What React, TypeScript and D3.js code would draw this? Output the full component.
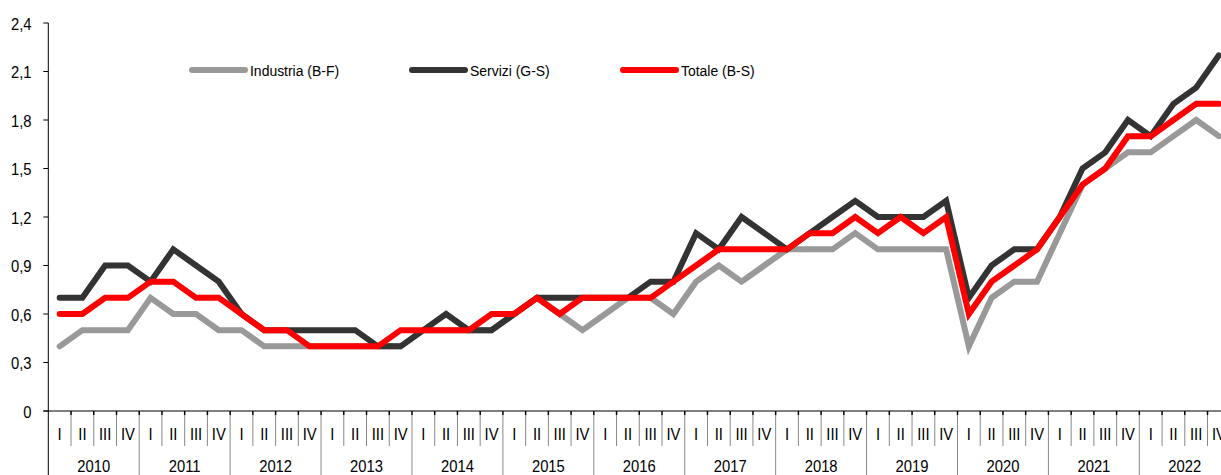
import React from "react";
import * as d3 from "d3";

const years = ["2010","2011","2012","2013","2014","2015","2016","2017","2018","2019","2020","2021","2022"];
const quarterNames = ["I","II","III","IV"];
const yTicks = [0, 0.3, 0.6, 0.9, 1.2, 1.5, 1.8, 2.1, 2.4];

const industria = [
  0.4,0.5,0.5,0.5, 0.7,0.6,0.6,0.5, 0.5,0.4,0.4,0.4, 0.4,0.4,0.4,0.4,
  0.5,0.5,0.5,0.5, 0.6,0.7,0.6,0.5, 0.6,0.7,0.7,0.6, 0.8,0.9,0.8,0.9,
  1.0,1.0,1.0,1.1, 1.0,1.0,1.0,1.0, 0.4,0.7,0.8,0.8, 1.1,1.4,1.5,1.6,
  1.6,1.7,1.8,1.7,
];
const servizi = [
  0.7,0.7,0.9,0.9, 0.8,1.0,0.9,0.8, 0.6,0.5,0.5,0.5, 0.5,0.5,0.4,0.4,
  0.5,0.6,0.5,0.5, 0.6,0.7,0.7,0.7, 0.7,0.7,0.8,0.8, 1.1,1.0,1.2,1.1,
  1.0,1.1,1.2,1.3, 1.2,1.2,1.2,1.3, 0.7,0.9,1.0,1.0, 1.2,1.5,1.6,1.8,
  1.7,1.9,2.0,2.2,
];
const totale = [
  0.6,0.6,0.7,0.7, 0.8,0.8,0.7,0.7, 0.6,0.5,0.5,0.4, 0.4,0.4,0.4,0.5,
  0.5,0.5,0.5,0.6, 0.6,0.7,0.6,0.7, 0.7,0.7,0.7,0.8, 0.9,1.0,1.0,1.0,
  1.0,1.1,1.1,1.2, 1.1,1.2,1.1,1.2, 0.6,0.8,0.9,1.0, 1.2,1.4,1.5,1.7,
  1.7,1.8,1.9,1.9,
];

const seriesNames = ["Industria (B-F)", "Servizi (G-S)", "Totale (B-S)"];
const seriesColors = ["#999999", "#333333", "#ff0000"];
const seriesData = [industria, servizi, totale];

const W = 1221;
const H = 475;
const FONT = "'Liberation Sans', Arial, sans-serif";

function T({ x, y, anchor = "start", size = 17, sx = 0.87, children }: any) {
  return (
    <text
      transform={`translate(${x},${y}) scale(${sx},1)`}
      textAnchor={anchor}
      fontSize={size}
      fontFamily={FONT}
      fill="#000"
    >
      {children}
    </text>
  );
}

export default function App() {
  const n = years.length * 4;
  const left = 48.3;
  const step = 22.73;
  const x = d3.scaleBand<number>().domain(d3.range(n)).range([left, left + n * step]).padding(0);
  const y = d3.scaleLinear().domain([0, 2.4]).range([411, 23]);
  const cx = (i: number) => (x(i) as number) + x.bandwidth() / 2;
  const line = d3.line<number>().x((_, i) => cx(i)).y((d) => y(d));
  const y0 = y(0);

  const legendX = [192, 412, 623];

  return (
    <svg width={W} height={H} style={{ position: "absolute", left: 0, top: 0, background: "#fff" }}>
      <rect width={W} height={H} fill="#fff" />
      {/* y axis */}
      <line x1={left} x2={left} y1={y(2.4)} y2={H} stroke="#000" strokeWidth={1} />
      {yTicks.map((t) => (
        <g key={t}>
          <line x1={left - 5} x2={left} y1={y(t)} y2={y(t)} stroke="#000" />
          <T x={31.5} y={y(t) + 6.5} anchor="end">
            {t === 0 ? "0" : d3.format(".1f")(t).replace(".", ",")}
          </T>
        </g>
      ))}
      {/* x axis */}
      <line x1={left - 5} x2={W} y1={y0} y2={y0} stroke="#000" strokeWidth={1} />
      {d3.range(1, n).map((i) => {
        const bx = x(i) as number;
        return (
          <g key={i}>
            <line x1={bx} x2={bx} y1={y0} y2={y0 + 4} stroke="#000" strokeWidth={1.5} />
            <line x1={bx} x2={bx} y1={y0 + 4} y2={i % 4 === 0 ? H : y0 + 35} stroke="#888" strokeWidth={1} />
          </g>
        );
      })}
      {d3.range(n).map((i) => (
        <T key={"q" + i} x={cx(i)} y={440} anchor="middle">
          {quarterNames[i % 4]}
        </T>
      ))}
      {years.map((yr, k) => (
        <T key={yr} x={(x(k * 4) as number) + 2 * step} y={472} anchor="middle">
          {yr}
        </T>
      ))}
      {/* series */}
      {seriesData.map((d, s) => (
        <path
          key={s}
          d={line(d) || ""}
          fill="none"
          stroke={seriesColors[s]}
          strokeWidth={6}
          strokeLinecap="round"
          strokeLinejoin="miter"
        />
      ))}
      {/* legend */}
      {seriesNames.map((name, s) => (
        <g key={name}>
          <line x1={legendX[s]} x2={legendX[s] + 53} y1={70} y2={70} stroke={seriesColors[s]} strokeWidth={6} strokeLinecap="round" />
          <T x={legendX[s] + 58} y={75.5} size={15.5} sx={0.9}>{name}</T>
        </g>
      ))}
    </svg>
  );
}
